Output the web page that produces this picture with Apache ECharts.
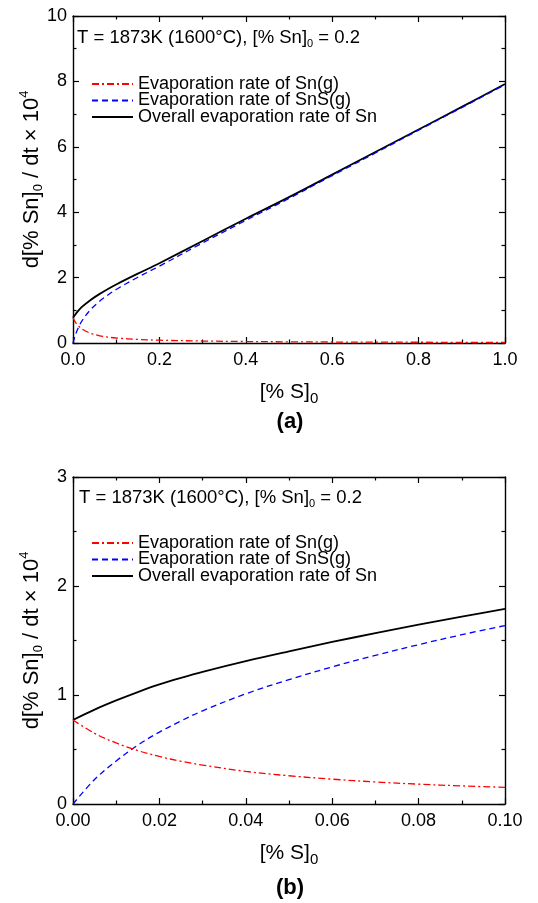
<!DOCTYPE html>
<html>
<head>
<meta charset="utf-8">
<script src="https://cdn.jsdelivr.net/npm/echarts@6/dist/echarts.min.js"></script>
<style>
  html, body { margin: 0; padding: 0; background: #fff; }
  #chart { width: 538px; height: 903px; }
</style>
</head>
<body>
<div id="chart"></div>
<script>
// Panel (a): [% S]0 from 0 to 1.0
const xA = [0, 0.005, 0.01, 0.02, 0.04, 0.06, 0.08, 0.1, 0.15, 0.2, 0.3, 0.4, 0.5, 0.6, 0.7, 0.8, 0.9, 1.0];
const snA = [0.771, 0.648, 0.56, 0.436, 0.299, 0.228, 0.182, 0.153, 0.11, 0.085, 0.06, 0.045, 0.036, 0.03, 0.026, 0.023, 0.02, 0.018];
const snsA = [0, 0.225, 0.395, 0.66, 1.011, 1.258, 1.462, 1.637, 2.01, 2.35, 3.06, 3.75, 4.42, 5.12, 5.81, 6.51, 7.20, 7.90];
const totalA = [0.771, 0.866, 0.95, 1.097, 1.31, 1.487, 1.645, 1.79, 2.12, 2.44, 3.12, 3.80, 4.46, 5.15, 5.84, 6.53, 7.22, 7.92];

// Panel (b): close-up of 0 to 0.10
const xB = [0, 0.005, 0.01, 0.015, 0.02, 0.025, 0.03, 0.04, 0.05, 0.06, 0.07, 0.08, 0.09, 0.1];
const snB = [0.771, 0.648, 0.56, 0.49, 0.436, 0.392, 0.357, 0.299, 0.259, 0.228, 0.202, 0.182, 0.166, 0.153];
const snsB = [0, 0.225, 0.395, 0.54, 0.66, 0.762, 0.855, 1.011, 1.141, 1.258, 1.364, 1.462, 1.553, 1.637];
const totalB = [0.771, 0.866, 0.95, 1.027, 1.097, 1.157, 1.212, 1.31, 1.40, 1.487, 1.567, 1.645, 1.719, 1.79];

const seriesNames = ['Evaporation rate of Sn(g)', 'Evaporation rate of SnS(g)', 'Overall evaporation rate of Sn'];
const panelLabels = ['(a)', '(b)'];
const conditionText = 'T = 1873K (1600°C), [% Sn]';

const FONT = '"Liberation Sans", Arial, Helvetica, sans-serif';
const pair = (xs, ys) => xs.map((x, i) => [x, ys[i]]);

const grids = [
  { left: 73, top: 16, width: 432, height: 327 },
  { left: 73, top: 477, width: 432, height: 327 }
];

const frameLine = { lineStyle: { color: '#000', width: 1.4 } };
const tickIn = { show: true, inside: true, length: 6, lineStyle: { color: '#000', width: 1.2 } };
const minorIn = { show: true, splitNumber: 2, length: 3.5, lineStyle: { color: '#000', width: 1.2 } };

function xAxes(gi, max, interval, digits) {
  const base = {
    type: 'value', gridIndex: gi, min: 0, max: max, interval: interval,
    axisLine: Object.assign({ onZero: false }, frameLine),
    axisTick: tickIn, minorTick: minorIn, splitLine: { show: false }
  };
  return [
    Object.assign({}, base, {
      position: 'bottom',
      axisLabel: { color: '#000', fontFamily: FONT, fontSize: 18, margin: 8,
                   formatter: v => v.toFixed(digits) },
      name: '{t|[% S]}{s|0}',
      nameLocation: 'middle', nameGap: 35,
      nameTextStyle: {
        rich: {
          t: { fontFamily: FONT, fontSize: 21, color: '#000' },
          s: { fontFamily: FONT, fontSize: 15, color: '#000', padding: [13, 0, 0, 0] }
        }
      }
    }),
    Object.assign({}, base, { position: 'top', axisLabel: { show: false } })
  ];
}

function yAxes(gi, max, interval) {
  const base = {
    type: 'value', gridIndex: gi, min: 0, max: max, interval: interval,
    axisLine: Object.assign({ onZero: false }, frameLine),
    axisTick: tickIn, minorTick: minorIn, splitLine: { show: false }
  };
  return [
    Object.assign({}, base, {
      position: 'left',
      axisLabel: { color: '#000', fontFamily: FONT, fontSize: 18, margin: 6 },
      name: '{t|d[% Sn]}{s|0}{t| / dt × 10}{p|4}',
      nameLocation: 'middle', nameRotate: 90, nameGap: 28, nameMoveOverlap: false,
      nameTextStyle: {
        rich: {
          t: { fontFamily: FONT, fontSize: 22, color: '#000' },
          s: { fontFamily: FONT, fontSize: 13, color: '#000', padding: [13, 0, 0, 0] },
          p: { fontFamily: FONT, fontSize: 13, color: '#000', padding: [0, 0, 14, 0] }
        }
      }
    }),
    Object.assign({}, base, { position: 'right', axisLabel: { show: false } })
  ];
}

const styles = [
  { color: '#ff0000', width: 1.3, type: [7, 3, 2, 3] },
  { color: '#0000ff', width: 1.3, type: [6, 4] },
  { color: '#000000', width: 1.8, type: 'solid' }
];

function panelSeries(gi, xs, sets) {
  return sets.map((ys, k) => ({
    type: 'line', name: seriesNames[k],
    xAxisIndex: gi * 2, yAxisIndex: gi * 2,
    data: pair(xs, ys),
    symbol: 'none', smooth: 0.35,
    lineStyle: styles[k], itemStyle: { color: styles[k].color },
    z: 3 - k
  }));
}

const legendBase = {
  orient: 'vertical', left: 86, itemWidth: 41, itemHeight: 14, itemGap: -1.5,
  selectedMode: false,
  itemStyle: { opacity: 0 },
  textStyle: { fontFamily: FONT, fontSize: 18, color: '#000' },
  data: seriesNames
};

const richCond = {
  t: { fontFamily: FONT, fontSize: 18.5, color: '#000' },
  s: { fontFamily: FONT, fontSize: 11, color: '#000', padding: [11, 0, 0, 0] }
};

const option = {
  animation: false,
  backgroundColor: '#fff',
  grid: grids,
  xAxis: [].concat(xAxes(0, 1.0, 0.2, 1), xAxes(1, 0.1, 0.02, 2)),
  yAxis: [].concat(yAxes(0, 10, 2), yAxes(1, 3, 1)),
  legend: [
    Object.assign({}, legendBase, { top: 70 }),
    Object.assign({}, legendBase, { top: 529 })
  ],
  series: [].concat(
    panelSeries(0, xA, [snA, snsA, totalA]),
    panelSeries(1, xB, [snB, snsB, totalB])
  ),
  graphic: [
    { type: 'text', x: 77, y: 38, z: 10,
      style: { text: '{t|' + conditionText + '}{s|0}{t| = 0.2}', rich: richCond, verticalAlign: 'middle' } },
    { type: 'text', x: 79, y: 498, z: 10,
      style: { text: '{t|' + conditionText + '}{s|0}{t| = 0.2}', rich: richCond, verticalAlign: 'middle' } },
    { type: 'text', x: 290, y: 422, z: 10,
      style: { text: panelLabels[0], font: 'bold 22px ' + FONT, fill: '#000', align: 'center', verticalAlign: 'middle' } },
    { type: 'text', x: 290, y: 888, z: 10,
      style: { text: panelLabels[1], font: 'bold 22px ' + FONT, fill: '#000', align: 'center', verticalAlign: 'middle' } }
  ]
};

echarts.init(document.getElementById('chart')).setOption(option);
</script>
</body>
</html>
